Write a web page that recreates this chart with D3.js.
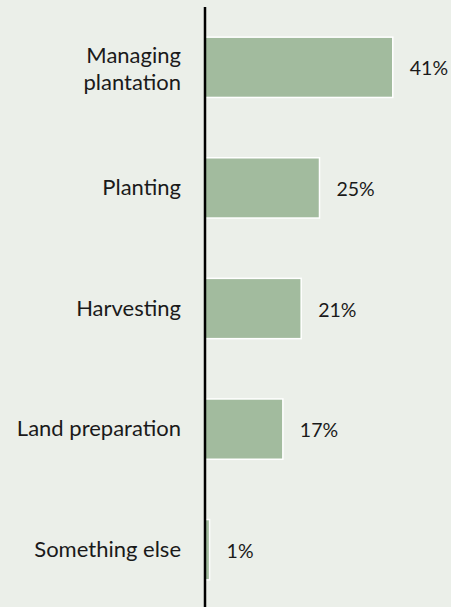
<!DOCTYPE html>
<html>
<head>
<meta charset="utf-8">
<script src="https://cdn.jsdelivr.net/npm/d3@7"></script>
<style>
  html, body { margin: 0; padding: 0; background: #ebefe9; }
  svg { display: block; }
  text { font-family: Lato, "Open Sans", sans-serif; fill: #1a1a1a; }
</style>
</head>
<body>
<svg id="chart" width="451" height="607"></svg>
<script>
// Share of respondents by main activity
const categories = ["Managing plantation", "Planting", "Harvesting", "Land preparation", "Something else"];
const labelLines = [["Managing", "plantation"], ["Planting"], ["Harvesting"], ["Land preparation"], ["Something else"]];
const values = [41, 25, 21, 17, 1];
const valueLabels = ["41%", "25%", "21%", "17%", "1%"];

const width = 451, height = 607;
const axisX = 205;
const catFontSize = 22;
const valueFontSize = 19.5;

const svg = d3.select("#chart");

const x = d3.scaleLinear().domain([0, 50]).range([axisX, axisX + 229]);
const y = d3.scaleBand().domain(categories).range([7, 610]).paddingInner(0.5).paddingOuter(0.25);

// Bars
svg.selectAll("rect.bar")
  .data(categories)
  .join("rect")
  .attr("class", "bar")
  .attr("x", x(0))
  .attr("y", d => y(d))
  .attr("width", (d, i) => x(values[i]) - x(0))
  .attr("height", y.bandwidth())
  .attr("fill", "#a2bb9e")
  .attr("stroke", "#ffffff")
  .attr("stroke-width", 1.5);

// Value labels
svg.selectAll("text.value")
  .data(categories)
  .join("text")
  .attr("class", "value")
  .attr("x", (d, i) => x(values[i]) + 17)
  .attr("y", d => y(d) + y.bandwidth() / 2 + 8)
  .attr("font-size", valueFontSize)
  .text((d, i) => valueLabels[i]);

// Category labels
const lineHeight = 27;
const cat = svg.selectAll("text.cat")
  .data(categories)
  .join("text")
  .attr("class", "cat")
  .attr("text-anchor", "end")
  .attr("font-size", catFontSize);
cat.each(function(d, i) {
  const lines = labelLines[i];
  const cy = y(d) + y.bandwidth() / 2 + 7 - (lines.length - 1) * lineHeight / 2 + (lines.length > 1 ? 2 : 0);
  d3.select(this).selectAll("tspan")
    .data(lines)
    .join("tspan")
    .attr("x", 181)
    .attr("y", (l, j) => cy + j * lineHeight)
    .text(l => l);
});

// Vertical axis line
svg.append("line")
  .attr("x1", axisX).attr("x2", axisX)
  .attr("y1", 7).attr("y2", height)
  .attr("stroke", "#000000")
  .attr("stroke-width", 2.5);
</script>
</body>
</html>
